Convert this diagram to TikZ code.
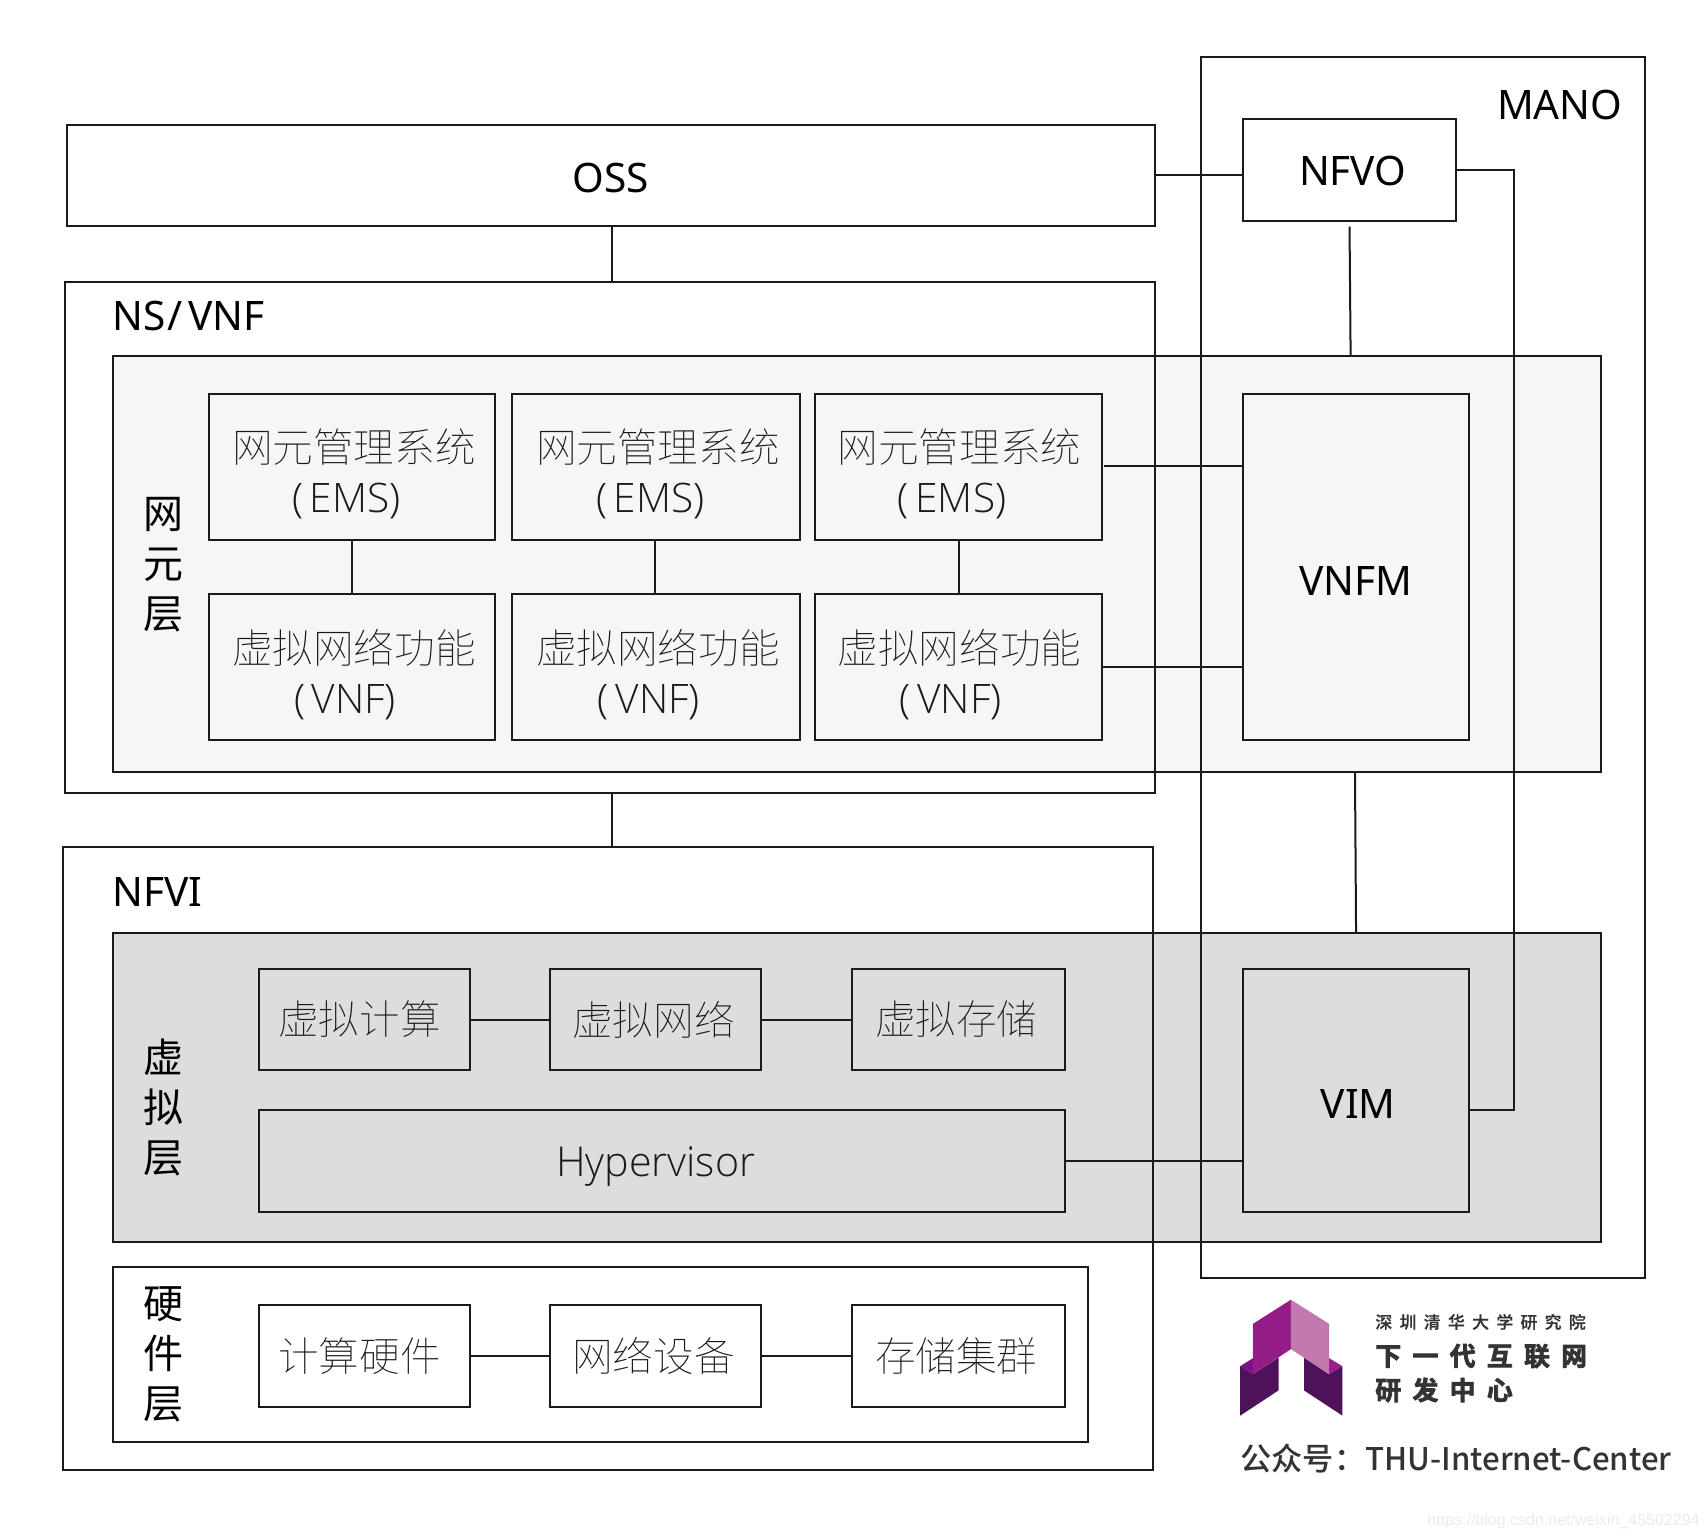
\documentclass[tikz,border=0pt]{standalone}
\usepackage{fontspec}
\setmainfont{Noto Sans}
\newfontfamily\cjkreg{Noto Sans CJK SC}
\newfontfamily\cjklight{Noto Sans CJK SC Thin}
\newfontfamily\latlight{Open Sans Light}
\newfontfamily\cjkbold{Noto Sans CJK SC Bold}
\newfontfamily\cjkmed{Noto Sans CJK SC Medium}
\newfontfamily\logospaced[LetterSpace=44,FakeBold=0.6]{Noto Sans CJK SC Medium}
\newfontfamily\logobig[LetterSpace=44,FakeBold=3]{Noto Sans CJK SC Bold}
\newfontfamily\wm{Liberation Sans}
\definecolor{panelA}{HTML}{F5F7F6}
\definecolor{panelB}{HTML}{DCDDDD}
\definecolor{ink}{HTML}{1A1A1A}
\definecolor{lgA}{HTML}{7E1183}
\definecolor{lgB}{HTML}{9C1D8C}
\definecolor{lgC}{HTML}{4D1259}
\definecolor{lgD}{HTML}{941C87}
\definecolor{lgE}{HTML}{C379AF}
\newcommand{\rbox}[6][]{%
  \pgfmathsetmacro{\rw}{(#5-#3-1)*0.5446}%
  \pgfmathsetmacro{\rh}{(#6-#4-1)*0.5446}%
  \node[rect,minimum width=\rw pt,minimum height=\rh pt,#1] (#2) at ({(#3+#5)/2},{(#4+#6)/2}) {};}
\tikzset{
  rect/.style={draw=ink,line width=1pt,inner sep=0pt,outer sep=0pt,fill=none},
  link/.style={draw=ink,line width=1pt},
  big/.style={font=\fontsize{20.3}{25}\selectfont,text=black,inner sep=0pt},
  thinl/.style={font=\latlight\fontsize{20.6}{25}\selectfont,text=ink,inner sep=0pt},
  cjkt/.style={font=\fontsize{20.3}{25}\selectfont,text=ink,align=center,inner sep=0pt},
  stack/.style={font=\cjkreg\fontsize{20}{25}\selectfont,text=black,align=center,inner sep=0pt},
}
\newcommand{\twol}[2]{{\cjklight #1}\\{\latlight #2}}
\begin{document}
\begin{tikzpicture}[x=0.5446pt,y=-0.5446pt]
\useasboundingbox (0,0) rectangle (1567.2,1411.2);
% panels
\rbox[fill=panelA]{pnA}{103}{326}{1470}{709}
\rbox[fill=panelB]{pnB}{103}{856}{1470}{1141}
\rbox{pnC}{103}{1163}{999}{1324}
% outer frames
\rbox{oss}{61}{114}{1061}{208}
\rbox{ns}{59}{258}{1061}{729}
\rbox{nfvi}{57}{777}{1059}{1350}
\rbox{mano}{1102}{52}{1511}{1174}
\rbox{nfvo}{1141}{109}{1337}{203}
\rbox{vnfm}{1141}{361}{1349}{680}
\rbox{vim}{1141}{889}{1349}{1113}
% EMS / VNF
\rbox{emsA}{191}{361}{455}{496}
\rbox{emsB}{470}{361}{735}{496}
\rbox{emsC}{748}{361}{1012}{496}
\rbox{vnfA}{191}{545}{455}{680}
\rbox{vnfB}{470}{545}{735}{680}
\rbox{vnfC}{748}{545}{1012}{680}
% virtual
\rbox{vcA}{237}{889}{432}{983}
\rbox{vcB}{504}{889}{699}{983}
\rbox{vcC}{782}{889}{978}{983}
\rbox{hyp}{237}{1019}{978}{1113}
% hardware
\rbox{hwA}{237}{1198}{432}{1292}
\rbox{hwB}{504}{1198}{699}{1292}
\rbox{hwC}{782}{1198}{978}{1292}
% connectors
\draw[link] (562,0 |- oss.south) -- (562,0 |- ns.north);
\draw[link] (562,0 |- ns.south) -- (562,0 |- nfvi.north);
\draw[link] (oss.east |- 0,161) -- (nfvo.west |- 0,161);
\coordinate (nfvoGap) at (1239,208);
\draw[link] (nfvoGap) -- (1240,0 |- pnA.north);
\draw[link] (nfvo.east) -- (1390,0 |- nfvo.east) -- (1390,1019) -- (vim.east |- 0,1019);
\coordinate (emsGap) at (1014,428);
\draw[link] (emsGap) -- (vnfm.west |- emsGap);
\draw[link] (vnfC.east |- 0,612) -- (vnfm.west |- 0,612);
\draw[link] (323,0 |- emsA.south) -- (323,0 |- vnfA.north);
\draw[link] (601,0 |- emsB.south) -- (601,0 |- vnfB.north);
\draw[link] (880,0 |- emsC.south) -- (880,0 |- vnfC.north);
\draw[link] (1244,0 |- pnA.south) -- (1245,0 |- pnB.north);
\draw[link] (hyp.east |- 0,1066) -- (vim.west |- 0,1066);
\draw[link] (vcA.east) -- (vcB.west);
\draw[link] (vcB.east) -- (vcC.west);
\draw[link] (hwA.east) -- (hwB.west);
\draw[link] (hwB.east) -- (hwC.west);
% big labels
\node[big] (tOss) at (561,163) {OSS};
\node[big] (tNfvo) at (1242,157) {NFVO};
\node[big] (tMano) at (1432,96) {MANO};
\node[big,anchor=west] (tNs) at (103,290) {NS\kern0.8pt/\kern3pt VNF};
\node[big,anchor=west] (tNfvi) at (103,819) {NFVI};
\node[big] (tVnfm) at (1245,533) {VNFM};
\node[big] (tVim) at (1247,1014) {VIM};
\node[thinl] (tHyp) at (602,1071) {Hypervisor};
\node[stack] (sA) at (150,518) {网\\元\\层};
\node[stack] (sB) at (150,1017) {虚\\拟\\层};
\node[stack] (sC) at (150,1243) {硬\\件\\层};
\node[cjkt] (tE1) at (325,435) {\twol{网元管理系统}{(\,EMS)\hspace*{7.6pt}}};
\node[cjkt] (tE2) at (604,435) {\twol{网元管理系统}{(\,EMS)\hspace*{7.6pt}}};
\node[cjkt] (tE3) at (881,435) {\twol{网元管理系统}{(\,EMS)\hspace*{7.6pt}}};
\node[cjkt] (tV1) at (325,619) {\twol{虚拟网络功能}{(\,VNF)\hspace*{9pt}}};
\node[cjkt] (tV2) at (604,619) {\twol{虚拟网络功能}{(\,VNF)\hspace*{9pt}}};
\node[cjkt] (tV3) at (881,619) {\twol{虚拟网络功能}{(\,VNF)\hspace*{9pt}}};
\node[cjkt,font=\cjklight\fontsize{20.3}{25}\selectfont] (c1) at (330,936) {虚拟计算};
\node[cjkt,font=\cjklight\fontsize{20.3}{25}\selectfont] (c2) at (600,936) {虚拟网络};
\node[cjkt,font=\cjklight\fontsize{20.3}{25}\selectfont] (c3) at (878,936) {虚拟存储};
\node[cjkt,font=\cjklight\fontsize{20.3}{25}\selectfont] (h1) at (330,1245) {计算硬件};
\node[cjkt,font=\cjklight\fontsize{20.3}{25}\selectfont] (h2) at (600,1245) {网络设备};
\node[cjkt,font=\cjklight\fontsize{20.3}{25}\selectfont] (h3) at (878,1245) {存储集群};
% logo, in reference pixels
\begin{scope}[x=0.5pt,y=-0.5pt]
\fill[lgA] (1240.2,1366.2) -- (1252.9,1358.2) -- (1252.9,1374.3) -- cycle;
\fill[lgB] (1329.2,1358.2) -- (1342.4,1366.2) -- (1329.2,1374.3) -- cycle;
\fill[lgC] (1240.2,1366.2) -- (1252.9,1374.3) -- (1278.5,1357.5) -- (1278.5,1390.4) -- (1240.2,1415.6) -- cycle;
\fill[lgC] (1304,1357.5) -- (1329.2,1374.3) -- (1342.4,1366.2) -- (1342.4,1415.6) -- (1304,1390.4) -- cycle;
\fill[lgD] (1290.9,1299.7) -- (1252.9,1323.9) -- (1252.9,1374.3) -- (1290.9,1349.1) -- cycle;
\fill[lgE] (1290.9,1299.7) -- (1329.2,1323.9) -- (1329.2,1374.3) -- (1290.9,1349.1) -- cycle;
\node[anchor=west,inner sep=0pt,text=black!80,font=\logospaced\fontsize{8.4}{10}\selectfont] (lg1) at (1375,1322) {深圳清华大学研究院};
\node[anchor=west,inner sep=0pt,text=black!80,font=\logobig\fontsize{12.9}{14}\selectfont] (lg2) at (1375,1356) {下一代互联网};
\node[anchor=west,inner sep=0pt,text=black!80,font=\logobig\fontsize{12.9}{14}\selectfont] (lg3) at (1375,1390) {研发中心};
\node[anchor=west,inner sep=0pt,text=black!80,font=\cjkmed\fontsize{15.6}{17}\selectfont] (lg4) at (1240,1458) {公众号：THU-Internet-Center};
\node[anchor=west,inner sep=0pt,text=black!8,font=\wm\fontsize{8}{10}\selectfont] (wm) at (1427,1521) {https://blog.csdn.net/weixin\_45502294};
\end{scope}
\end{tikzpicture}
\end{document}
